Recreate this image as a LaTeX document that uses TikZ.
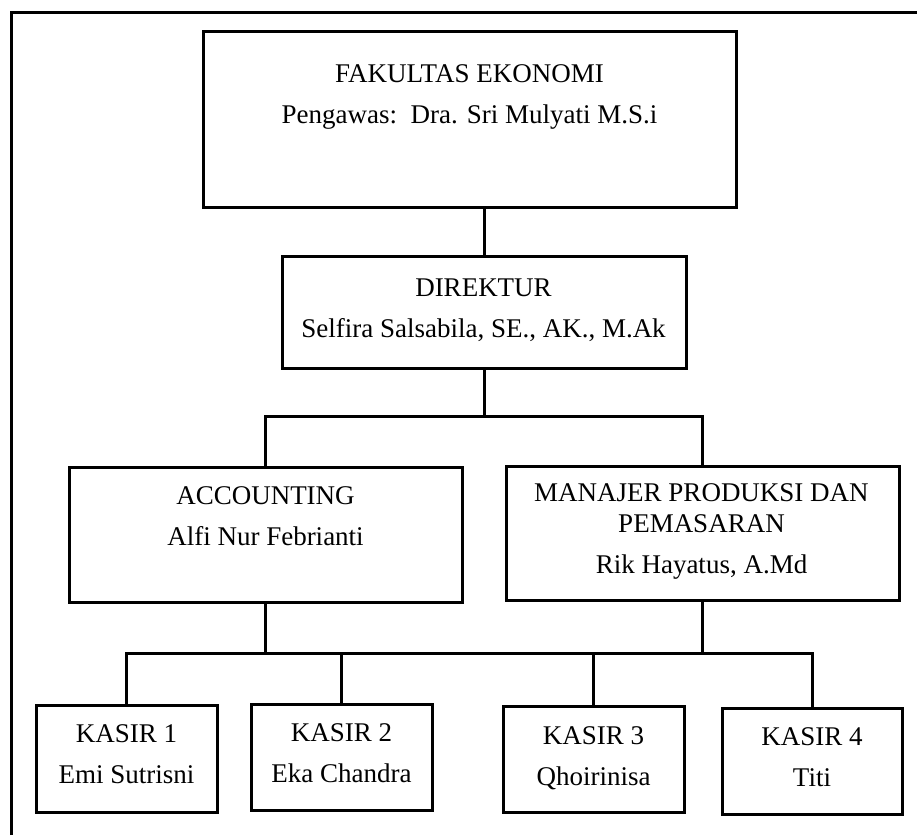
\documentclass[tikz,border=0pt]{standalone}
\usepackage{fontspec}
\setmainfont{Liberation Serif}
\begin{document}
\begin{tikzpicture}[
  x=1pt, y=-1pt,
  box/.style={draw, line width=3pt, inner sep=0pt},
  txt/.style={align=center, inner sep=0pt, anchor=base, font=\fontsize{27}{31}\selectfont},
  lin/.style={line width=3pt}
]
\useasboundingbox (0,0) rectangle (917,835);
\draw[lin] (11,835) |- (917,12);
% boxes
\node[box, minimum width=533pt, minimum height=176pt] (fak) at (469.5,119) {};
\node[box, minimum width=404pt, minimum height=112pt] (dir) at (484,312) {};
\node[box, minimum width=393pt, minimum height=135pt] (acc) at (265.5,534.5) {};
\node[box, minimum width=393pt, minimum height=134pt] (man) at (702.5,533) {};
\node[box, minimum width=181pt, minimum height=107pt] (k1) at (126.5,758.5) {};
\node[box, minimum width=181pt, minimum height=106pt] (k2) at (341.5,757) {};
\node[box, minimum width=181pt, minimum height=106pt] (k3) at (593.5,759) {};
\node[box, minimum width=180pt, minimum height=106pt] (k4) at (812,761) {};
% texts (anchored at the last baseline)
\node[txt] (fakt) at (469.5,123) {FAKULTAS EKONOMI\\[10pt]Pengawas:\ \ Dra. Sri Mulyati M.S.i};
\node[txt] (dirt) at (483.5,337) {DIREKTUR\\[10pt]Selfira Salsabila, SE., AK., M.Ak};
\node[txt] (acct) at (265.5,545) {ACCOUNTING\\[10pt]Alfi Nur Febrianti};
\node[txt] (mant) at (701.5,573) {MANAJER PRODUKSI DAN\\PEMASARAN\\[10pt]Rik Hayatus, A.Md};
\node[txt] (k1t) at (126.5,783) {KASIR 1\\[10pt]Emi Sutrisni};
\node[txt] (k2t) at (341.5,782) {KASIR 2\\[10pt]Eka Chandra};
\node[txt] (k3t) at (593.5,785) {KASIR 3\\[10pt]Qhoirinisa};
\node[txt] (k4t) at (812,786) {KASIR 4\\[10pt]Titi};
% lines
\coordinate (j1) at (484,416);
\coordinate (j2) at (265.5,653);
\draw[lin] (dir.north) -- (dir.north |- fak.south);
\draw[lin] (dir.south) -- (j1);
\draw[lin] (acc.north) |- (j1) -| (man.north);
\draw[lin] (acc.south) -- (j2);
\draw[lin] (man.south) -- (man.south |- j2);
\draw[lin] (k1.north) |- (j2) -| (k4.north);
\draw[lin] (k2.north) -- (k2.north |- j2);
\draw[lin] (k3.north) -- (k3.north |- j2);
\end{tikzpicture}
\end{document}
